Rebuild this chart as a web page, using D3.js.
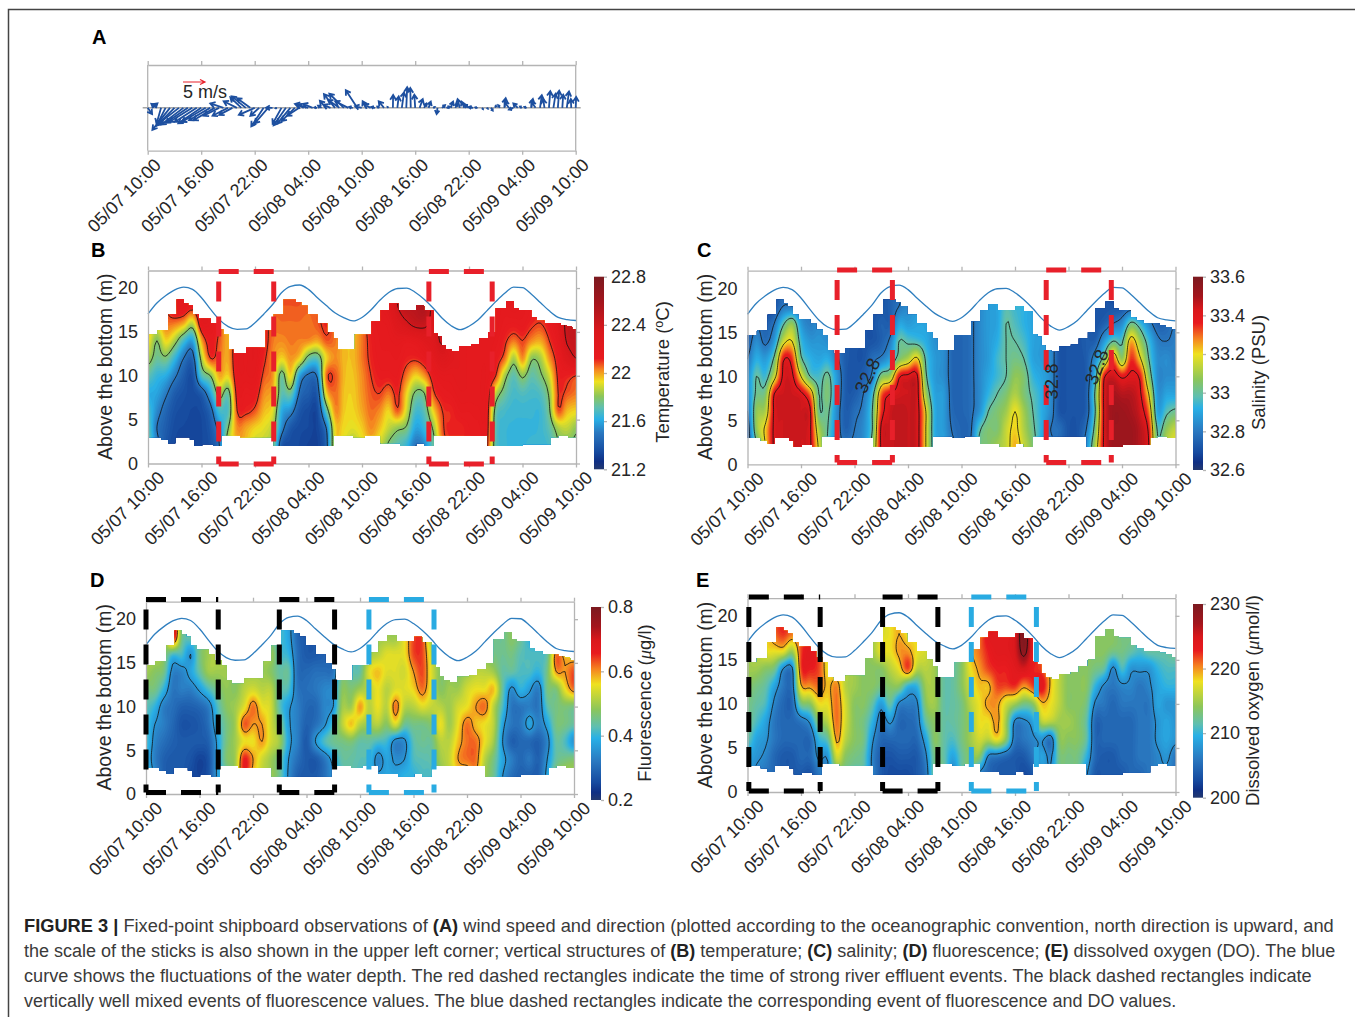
<!DOCTYPE html>
<html>
<head>
<meta charset="utf-8">
<script src="https://cdnjs.cloudflare.com/ajax/libs/d3/7.8.5/d3.min.js"></script>
<style>
body { margin: 0; background: #fff; }
text { font-family: "Liberation Sans", Arial, sans-serif; fill: #262626; }
</style>
</head>
<body>
<script>
var tickHours = [0, 6, 12, 18, 24, 30, 36, 42, 48];
var tickLabels = ["05/07 10:00", "05/07 16:00", "05/07 22:00", "05/08 04:00", "05/08 10:00", "05/08 16:00", "05/08 22:00", "05/09 04:00", "05/09 10:00"];
var depthTicks = [0, 5, 10, 15, 20];

// water depth, one value per hour
var waterDepth = [17.05, 18.3, 19.15, 19.8, 20.1, 19.85, 18.9, 17.6, 16.4, 15.6, 15.3, 15.35, 16.05, 17.05, 18.15, 19.5, 20.2, 20.35, 19.85, 18.9, 18, 17.15, 16.6, 16.25, 16.65, 17.5, 18.6, 19.5, 19.95, 20, 19.5, 18.7, 17.7, 16.55, 15.7, 15.25, 15.65, 16.35, 17.4, 18.45, 19.4, 20.1, 20.05, 19.3, 18.35, 17.4, 16.65, 16.4, 16.3];

// sampled range of the profiler, stepped
var topHours = [0, 1.06, 2.26, 3.23, 4.03, 4.5, 5.05, 5.7, 7.04, 7.7, 8.46, 9.03, 9.6, 11, 13.2, 14.1, 15.2, 16.6, 17.2, 17.9, 19, 20.1, 20.8, 21.3, 23.2, 25.07, 26.1, 27.05, 28.08, 30.07, 30.96, 32, 32.5, 32.95, 33.4, 34.05, 34.94, 36.27, 37.16, 38.18, 39, 40.17, 41.05, 41.6, 43, 43.6, 44.46, 46.24, 46.9, 47.56];
var topDepths = [14.7, 15.2, 17, 18.7, 18.3, 18, 17, 16.5, 16, 15.3, 14.7, 13, 12.6, 13.2, 15.2, 17, 18.7, 18.4, 18, 17, 16, 15, 14.3, 13, 14.7, 16.2, 17.5, 18.2, 17.5, 18, 17.4, 14.8, 14.5, 13.5, 13, 12.8, 13.4, 13.6, 14.3, 15, 17.7, 18.5, 17.7, 17.5, 16.7, 16.3, 16, 15.8, 15.6, 15.3];
var bottomHours = [0, 1.5, 2.26, 3.06, 4.7, 5.2, 6.07, 7.3, 8.28, 10.36, 14.1, 20.77, 23, 24.3, 26.1, 28.3, 30.07, 31, 32, 38.05, 42.05, 45.15, 46, 47.1];
var bottomDepths = [3, 2.7, 2.3, 3, 2.7, 2, 2.2, 2, 3.2, 3, 2, 3.2, 3, 3.2, 2.3, 2, 2.3, 2, 3.2, 2, 2.2, 3, 3.2, 3];

// depth of each value in the hourly columns below
var rowDepths = [2, 4, 6, 8, 10, 12, 14, 16, 18];

var tempCols = [
[21.75,21.72,21.68,21.62,21.72,21.85,21.95,22,22],
[21.55,21.5,21.55,21.6,21.65,21.75,21.8,21.95,22],
[21.4,21.42,21.45,21.52,21.62,21.78,21.95,22.05,22.1],
[21.35,21.36,21.38,21.42,21.52,21.65,21.85,22.05,22.2],
[21.35,21.35,21.36,21.38,21.42,21.5,21.68,22,22.2],
[21.35,21.35,21.35,21.36,21.38,21.45,21.6,21.88,22.15],
[21.35,21.35,21.36,21.42,21.7,21.85,22,22.2,22.25],
[21.38,21.4,21.45,21.6,21.8,22.1,22.15,22.2,22.2],
[21.5,21.55,21.68,21.85,22,22.05,22.08,22.1,22.1],
[21.9,21.8,21.7,21.75,21.95,22,22,22,22],
[22,22.03,22.1,22.15,22.18,22.2,22.2,22.2,22.2],
[21.98,22,22.12,22.15,22.2,22.2,22.2,22.2,22.2],
[21.9,21.95,22.08,22.15,22.2,22.22,22.22,22.22,22.22],
[21.88,21.92,21.98,22.03,22.08,22.12,22.15,22.15,22.15],
[21.8,21.85,21.92,21.98,22.02,22.03,22.05,22.06,22.08],
[21.4,21.55,21.62,21.72,21.75,21.95,22.03,22.06,22.08],
[21.36,21.4,21.55,21.75,21.95,22.02,22.05,22.06,22.08],
[21.35,21.36,21.4,21.48,21.6,21.95,22.04,22.06,22.08],
[21.33,21.35,21.36,21.42,21.48,21.75,22.03,22.05,22.07],
[21.33,21.34,21.36,21.42,21.52,21.72,22,22.08,22.07],
[21.45,21.5,21.72,21.95,22.06,21.95,22.08,22.12,22.1],
[21.95,21.95,22.03,22.06,22.08,22.03,22.05,22.05,22.05],
[21.92,21.94,21.96,21.97,21.98,21.98,21.98,21.98,21.98],
[21.85,21.92,21.95,21.96,21.97,21.98,21.98,21.98,21.98],
[21.92,21.96,22,22.02,22.03,22.05,22.05,22.05,22.05],
[21.98,22.03,22.06,22.08,22.1,22.12,22.13,22.15,22.15],
[21.9,21.97,22.03,22.1,22.14,22.16,22.17,22.18,22.2],
[21.78,21.88,21.95,22.05,22.14,22.16,22.18,22.2,22.25],
[21.72,21.82,22.08,22.12,22.15,22.17,22.2,22.3,22.4],
[21.65,21.78,21.9,21.95,22.05,22.13,22.18,22.38,22.5],
[21.5,21.6,21.68,21.78,21.95,22.12,22.2,22.45,22.5],
[21.55,21.65,21.72,21.8,22.02,22.16,22.25,22.45,22.55],
[21.75,21.82,21.95,22.08,22.15,22.22,22.3,22.35,22.35],
[22.05,22.08,22.1,22.15,22.2,22.3,22.42,22.42,22.42],
[22.12,22.12,22.12,22.17,22.2,22.25,22.25,22.25,22.25],
[22.13,22.12,22.17,22.2,22.22,22.22,22.22,22.22,22.22],
[22.15,22.15,22.17,22.2,22.2,22.2,22.2,22.2,22.2],
[22.15,22.16,22.18,22.2,22.2,22.2,22.2,22.2,22.2],
[22.13,22.15,22.16,22.18,22.2,22.2,22.2,22.2,22.2],
[21.72,21.72,21.75,21.88,22.1,22.15,22.18,22.2,22.2],
[21.66,21.66,21.68,21.75,21.85,22.06,22.12,22.16,22.18],
[21.65,21.65,21.66,21.68,21.72,21.85,22.05,22.15,22.2],
[21.65,21.65,21.66,21.7,21.82,22.03,22.1,22.16,22.18],
[21.66,21.65,21.66,21.68,21.73,21.82,22.03,22.12,22.15],
[21.66,21.66,21.66,21.7,21.78,21.85,22,22.1,22.12],
[21.68,21.72,21.78,21.82,21.9,22.02,22.1,22.15,22.15],
[21.8,21.85,22.08,22.1,22.12,22.15,22.2,22.25,22.3],
[21.8,21.88,21.98,22.08,22.13,22.3,22.42,22.45,22.45],
[21.78,21.82,21.95,22.05,22.1,22.4,22.45,22.48,22.5]
];

var salCols = [
[32.75,32.75,32.8,32.85,32.85,32.8,32.75,32.72,32.72],
[32.98,33.08,33.08,33.02,33,32.92,32.85,32.8,32.8],
[33.2,33.22,33.12,33.05,32.95,32.88,32.78,32.75,32.7],
[33.42,33.42,33.42,33.4,33.15,33.02,32.88,32.8,32.72],
[33.45,33.45,33.45,33.45,33.42,33.38,33.15,32.98,32.8],
[33.45,33.45,33.45,33.45,33.42,33.35,33.2,33.08,32.8],
[33.45,33.45,33.45,33.42,33.2,33.02,32.95,32.88,32.8],
[33.42,33.42,33.42,33.3,33,32.93,32.87,32.82,32.8],
[33.18,33.12,33.02,33,32.96,32.9,32.87,32.85,32.85],
[32.99,33,33.02,33.05,33.02,32.92,32.85,32.85,32.85],
[32.85,32.85,32.85,32.88,32.88,32.82,32.8,32.8,32.8],
[32.8,32.75,32.74,32.74,32.74,32.74,32.74,32.74,32.74],
[32.82,32.8,32.78,32.74,32.72,32.72,32.72,32.72,32.72],
[32.85,32.85,32.83,32.8,32.75,32.72,32.72,32.72,32.72],
[33.05,33,33,32.95,32.82,32.78,32.72,32.72,32.72],
[33.42,33.42,33.35,33.3,33.05,32.82,32.75,32.75,32.72],
[33.45,33.45,33.45,33.4,33.1,32.9,32.82,32.75,32.75],
[33.47,33.47,33.47,33.44,33.38,33.05,33,32.9,32.8],
[33.46,33.46,33.46,33.45,33.42,33.12,32.98,32.88,32.85],
[33.44,33.44,33.44,33.44,33.42,33.22,32.96,32.9,32.88],
[33.2,33.2,33.2,33.1,33.02,32.98,32.92,32.9,32.9],
[32.93,32.92,32.92,32.9,32.88,32.88,32.86,32.86,32.86],
[32.9,32.88,32.88,32.88,32.85,32.85,32.85,32.85,32.85],
[32.82,32.79,32.77,32.76,32.76,32.76,32.76,32.76,32.76],
[32.76,32.76,32.76,32.76,32.76,32.76,32.76,32.76,32.76],
[32.8,32.78,32.78,32.78,32.78,32.78,32.78,32.78,32.78],
[33.02,32.98,32.86,32.84,32.84,32.84,32.84,32.84,32.84],
[33.05,33.05,33,32.93,32.9,32.88,32.88,32.88,32.88],
[33.1,33.05,33.05,33,32.95,32.95,32.92,32.9,32.9],
[33.15,33.15,33.1,33.05,33,33,33,33,32.98],
[33.25,33.22,33.2,33.12,33.08,33.03,33,32.97,32.95],
[33.15,33.12,33.1,33.05,33.05,33,32.96,32.93,32.93],
[33.05,33.02,33,32.98,32.94,32.9,32.9,32.9,32.9],
[32.9,32.92,32.92,32.92,32.9,32.88,32.88,32.88,32.88],
[32.83,32.8,32.84,32.85,32.85,32.85,32.85,32.85,32.85],
[32.76,32.78,32.72,32.72,32.72,32.72,32.72,32.72,32.72],
[32.72,32.72,32.72,32.72,32.72,32.72,32.72,32.72,32.72],
[32.72,32.72,32.72,32.72,32.72,32.72,32.72,32.72,32.72],
[32.85,32.8,32.75,32.75,32.74,32.74,32.74,32.74,32.74],
[33.12,33.05,33,33.02,32.95,32.85,32.75,32.72,32.72],
[33.42,33.42,33.42,33.42,33.38,33.05,32.88,32.75,32.72],
[33.52,33.52,33.52,33.5,33.45,33.3,33,32.8,32.72],
[33.52,33.52,33.52,33.48,33.38,33.08,32.98,32.85,32.72],
[33.52,33.52,33.5,33.48,33.42,33.35,33.25,33.02,32.75],
[33.48,33.48,33.45,33.42,33.38,33.22,33.1,32.95,32.72],
[33.4,33.38,33.3,33.2,33.08,33,32.95,32.84,32.72],
[33.02,32.98,32.9,32.87,32.85,32.85,32.82,32.75,32.7],
[33.15,33.08,32.98,32.9,32.85,32.85,32.8,32.76,32.7],
[33.2,33.15,33.02,32.9,32.85,32.82,32.82,32.8,32.72]
];

var fluoCols = [
[.42,.4,.42,.42,.43,.46,.5,.52,.52],
[.35,.33,.34,.36,.4,.46,.48,.52,.5],
[.29,.29,.31,.33,.33,.4,.46,.48,.47],
[.28,.28,.29,.3,.31,.32,.34,.42,.7],
[.28,.28,.28,.27,.29,.33,.34,.42,.46],
[.26,.27,.28,.27,.29,.33,.38,.36,.44],
[.25,.25,.28,.28,.3,.37,.44,.46,.46],
[.27,.27,.29,.31,.33,.42,.5,.5,.5],
[.37,.37,.37,.4,.42,.46,.5,.52,.52],
[.43,.47,.46,.46,.48,.49,.5,.5,.5],
[.5,.5,.5,.5,.5,.48,.48,.48,.48],
[.66,.66,.56,.63,.55,.52,.5,.5,.5],
[.58,.6,.56,.6,.62,.54,.5,.5,.5],
[.53,.54,.6,.6,.56,.52,.5,.5,.5],
[.5,.5,.54,.54,.54,.52,.48,.5,.45],
[.45,.45,.5,.47,.43,.44,.44,.42,.42],
[.35,.36,.38,.37,.37,.42,.44,.4,.38],
[.29,.31,.33,.33,.33,.32,.31,.31,.3],
[.28,.28,.28,.29,.3,.31,.3,.28,.28],
[.28,.28,.36,.31,.3,.32,.31,.28,.28],
[.31,.32,.42,.35,.34,.34,.31,.29,.29],
[.36,.38,.45,.42,.36,.36,.32,.32,.32],
[.42,.44,.46,.52,.5,.48,.46,.46,.46],
[.44,.44,.47,.58,.5,.47,.44,.44,.44],
[.42,.43,.44,.52,.6,.5,.44,.44,.44],
[.4,.42,.44,.5,.52,.52,.55,.5,.5],
[.37,.34,.42,.52,.56,.56,.58,.52,.5],
[.38,.38,.41,.48,.52,.52,.55,.55,.5],
[.38,.35,.34,.55,.62,.55,.55,.55,.5],
[.4,.36,.35,.45,.52,.55,.54,.56,.56],
[.4,.42,.43,.46,.52,.57,.6,.64,.64],
[.42,.43,.45,.46,.55,.62,.64,.64,.64],
[.42,.44,.45,.48,.53,.55,.55,.54,.5],
[.48,.5,.52,.56,.52,.48,.48,.48,.48],
[.52,.53,.52,.5,.5,.5,.48,.48,.48],
[.56,.6,.58,.56,.54,.5,.48,.48,.48],
[.56,.62,.62,.62,.56,.54,.5,.5,.5],
[.6,.62,.62,.58,.6,.56,.52,.5,.5],
[.5,.52,.56,.56,.62,.56,.52,.48,.48],
[.45,.46,.5,.52,.52,.58,.5,.46,.46],
[.36,.38,.36,.38,.42,.44,.44,.45,.45],
[.31,.33,.29,.32,.32,.35,.44,.46,.48],
[.29,.3,.3,.32,.32,.4,.42,.43,.45],
[.29,.32,.3,.38,.33,.37,.42,.42,.4],
[.29,.29,.29,.33,.32,.33,.4,.42,.4],
[.38,.36,.34,.38,.43,.46,.46,.44,.42],
[.48,.44,.44,.46,.46,.47,.6,.62,.5],
[.52,.46,.42,.46,.47,.56,.6,.58,.5],
[.5,.47,.36,.44,.46,.62,.64,.56,.5]
];

var oxyCols = [
[209,209,212,213,213,214,215,215,215],
[207,208,209,211,212,213,215,216,216],
[206,207,208,209,211,212,214,218,218],
[205,205,206,206,207,209,213,218,221],
[204,204,205,205,205,206,207.5,218,222.5],
[204,204,205,205,205,206,207,215,221],
[204,205,205,206,213,219,222,222,222],
[203.5,205,205,208,214,220,223,224,222],
[206,208,210,214,218,221,222,222,222],
[207,208,212,216,218,219,218,218,218],
[213,217,220,221,221,220.5,218,218,218],
[213,214,216,217,217,216,216,216,216],
[212,213,214,214,214,215,215,215,215],
[212,212,213,213,214,214,214,214,214],
[207,207,208,210,212,214,214,215,215],
[204,204,205,206,208.5,213,214,218,217],
[203,203.5,205,208,212,214,216,218,218],
[203,204,205,205,207,214,218,220,219.5],
[203,204,205,205,206.5,210,222,220,218],
[204,204,205,206,207,210,216,218,218],
[206,207,209,212,214,215,216,217,217],
[213,213,214,214,215,215,215,215,215],
[213,212,212,212,212,212,212,212,212],
[207,209,211,212,212,212,212,212,212],
[212,212,213,213,213,214,214,214,214],
[214,214,215,215,216,217,218,219,219],
[207,214,217,218,218,219,220,221,221],
[205,207,216,218,220,219,222,223,224],
[204,206,218,220,220,222,223,224,224],
[204,205,214,215,217,222,223,224,224],
[204,204,206,207,215,222.5,224,225,225],
[203,204,206,207,213,220,225,229,230],
[204,206,207,209,214,222,223,224,224],
[208,209,208,216,219,224,222,222,222],
[208,207,206,216,218,219,219,219,219],
[213,213,214,215,216,216,216,216,216],
[213,213,214,215,214,214,214,214,214],
[213,213,214,214,214,214,214,214,214],
[208,210,212,212,213,214,214,214,214],
[204,205,205,205,207,210,213,214,214],
[204,204,205,205,206,207,212,214,214],
[204,204,205,205,205,206,207,213,214],
[204,205,205,205,206,207,211,213,213],
[205,205,205,205,206,207,208,212,213],
[205,206,206,206,206,206,208,211,212],
[206,206,206,206,206,207,208,212,212],
[207,207,208,208,209,209,210,212,212],
[207,208,209,209,208,210,211,212,212],
[206,206,208,208,208,210,211,213,213]
];

// wind components in m/s, one pair per half hour
var windU = [1,1.2,-1.2,-1,-2,-4,-4,-4.5,-5,-5,-5.2,-5,-5.2,-5.4,-4.8,-4.8,-3.5,-3,-3.5,-3,-3,-2.5,-3.2,-3,-3.6,-2,-2.8,-3,-1.5,-.3,-2,-2.8,-3,-3,-2.8,-1.5,-3,-2.2,-.6,-.8,-1.4,-1.6,-2.5,-2.6,-3.3,-3,-.8,-2.6,-1.5,-.8,-1.5,-.8,-.5,-1.2,-.2,.05,.3,.5,.2,-.1,-.2,.7,.5,.5,.4,-.2,.7,.8,.5,.5,-.5,-.6,-1,-1,-.5,.2,.3,.4,.1,-.4,.3,-1,-1,-1,-.5,-.5,.4,-1,.4,-.3,.3,.5,.3,.2,.5,-.1,.1];
var windV = [-1.4,1,.9,-3.5,-4,-5,-4,-3.5,-3.8,-3.4,-3.2,-3.2,-3.5,-3.2,-2.8,-2.8,-1.8,1,-1.8,-1.6,1.5,2.4,2.6,2.2,-1.6,-1.8,-4.2,-3.5,0,-.1,-3.6,-4,-3.6,-3,-1.8,.8,.9,.9,.1,.5,1.6,.7,3.1,1.8,3.2,1.5,.2,4,.4,1.5,.8,.2,.3,1.5,.2,2.9,2.6,3.5,4.7,4.5,3,2,1,1.4,.2,-1.4,.6,.3,1.4,1,2,1.4,.7,.2,.1,-.3,-.2,-.6,.5,.6,2.2,1.4,-.4,1,.3,.2,2,1.4,2.9,2,3.8,3.2,3.9,3,3.7,2,2.5];

// colour bar ramps: position along the bar and colour
var rampColors = ["#24396f", "#0f2f84", "#164a9f", "#2a78c0", "#29b0e6", "#5fbfb0", "#8cc65a", "#efe11f", "#f58220", "#e81b1f", "#d9181c", "#a3151d", "#7b1a20"];
var rampTemp = [0, .04, .09, .19, .26, .32, .38, .455, .52, .575, .72, .87, 1];
var rampOther = [0, .04, .09, .2, .32, .38, .47, .6, .68, .76, .83, .9, 1];

var captionLines = [
	{y: 932, end: 1335, parts: [["FIGURE 3 |", 1], [" Fixed-point shipboard observations of ", 0], ["(A)", 1], [" wind speed and direction (plotted according to the oceanographic convention, north direction is upward, and", 0]]},
	{y: 957, end: 1336, parts: [["the scale of the sticks is also shown in the upper left corner; vertical structures of ", 0], ["(B)", 1], [" temperature; ", 0], ["(C)", 1], [" salinity; ", 0], ["(D)", 1], [" fluorescence; ", 0], ["(E)", 1], [" dissolved oxygen (DO). The blue", 0]]},
	{y: 982, end: 1313, parts: [["curve shows the fluctuations of the water depth. The red dashed rectangles indicate the time of strong river effluent events. The black dashed rectangles indicate", 0]]},
	{y: 1007, end: 1177, parts: [["vertically well mixed events of fluorescence values. The blue dashed rectangles indicate the corresponding event of fluorescence and DO values.", 0]]}
];

var svg = d3.select("body").
append("svg").
attr("width", 1355).
attr("height", 1017);

// figure frame
svg.append("path").
attr("d", "M8.5,1017V9.5H1355").
attr("fill", "none").
attr("stroke", "#444").
attr("stroke-width", 1.5);

var gray = "#b4b4b4";

function styleAxis(g) {
	g.selectAll("path, line").attr("stroke", gray).attr("stroke-width", 1.3);
	g.selectAll("text").attr("font-size", 18).attr("font-family", null).attr("fill", "#262626");
}

function dateAxis(g, x, bottom, nudge) {
	var axis = d3.axisBottom(x).tickValues(tickHours).tickSize(4).tickSizeOuter(0).tickFormat(function (d, i) {return tickLabels[i];});
	g.append("g").
	attr("transform", "translate(0," + bottom + ")").
	call(axis).
	call(styleAxis).
	selectAll("text").
	attr("text-anchor", "end").
	attr("dy", 0).
	attr("y", 0).
	attr("transform", "translate(" + nudge + ",15.5) rotate(-45)");
}

function topAxis(g, x, top) {
	g.append("g").
	attr("transform", "translate(0," + top + ")").
	call(d3.axisTop(x).tickValues(tickHours).tickSize(4).tickSizeOuter(0).tickFormat("")).
	call(styleAxis);
}

function letter(s, x, y) {
	svg.append("text").
	attr("x", x).
	attr("y", y).
	attr("font-size", 20).
	attr("font-weight", "bold").
	style("fill", "#000").
	text(s);
}

// Catmull-Rom through the read values, so the bands come out as smooth as the source shading
function cubic(a, b, c, d, t) {
	return 0.5 * (2 * b + (c - a) * t + (2 * a - 5 * b + 4 * c - d) * t * t + (3 * b - a - 3 * c + d) * t * t * t);
}

function sample(arr, p) {
	var n = arr.length - 1;
	var i = Math.max(0, Math.min(n, Math.floor(p)));
	var t = p - i;
	var get = function (k) {return arr[Math.max(0, Math.min(n, k))];};
	return cubic(get(i - 1), get(i), get(i + 1), get(i + 2), t);
}

var perHour = 4;
var perMetre = 4;
var gridLow = 1.5;
var gridHigh = 19.5;

function fineGrid(cols) {
	var nx = 48 * perHour + 1;
	var ny = (gridHigh - gridLow) * perMetre + 1;
	var values = new Array(nx * ny);
	var rows = rowDepths.map(function (d, r) {
		var line = d3.range(nx).map(function (i) {return sample(cols.map(function (c) {return c[r];}), i / perHour);});
		return line;
	});
	for (var j = 0; j < ny; j++) {
		var dep = gridLow + j / perMetre;
		var p = (dep - rowDepths[0]) / 2;
		for (var i = 0; i < nx; i++) {
			values[j * nx + i] = sample(rows.map(function (l) {return l[i];}), p);
		}
	}
	return {nx: nx, ny: ny, values: values};
}

function stepAt(hs, ds, h) {
	return ds[Math.max(0, d3.bisectRight(hs, h) - 1)];
}

function fieldPanel(cfg) {
	var x = d3.scaleLinear().domain([0, 48]).range([cfg.left, cfg.right]);
	var y = d3.scaleLinear().domain([0, 22]).range([cfg.zero, cfg.top]);
	var g = svg.append("g");
	var color = d3.scaleLinear().
	domain(cfg.ramp.map(function (t) {return cfg.low + t * (cfg.high - cfg.low);})).
	range(rampColors).
	clamp(true);

	// sampled area as a stepped clip
	var hrs = Array.from(new Set(topHours.concat(bottomHours, [48]))).sort(d3.ascending);
	var area = d3.area().
	curve(d3.curveStepAfter).
	x(function (h) {return x(h);}).
	y0(function (h) {return y(stepAt(bottomHours, bottomDepths, h));}).
	y1(function (h) {return y(stepAt(topHours, topDepths, h));});
	g.append("clipPath").
	attr("id", "clip" + cfg.name).
	append("path").
	attr("d", area(hrs));

	var grid = fineGrid(cfg.cols);
	var path = d3.geoPath(d3.geoTransform({point: function (px, py) {
		this.stream.point(x((px - 0.5) / perHour), y(gridLow + (py - 0.5) / perMetre));
	}}));
	var bands = d3.contours().size([grid.nx, grid.ny]);
	var body = g.append("g").attr("clip-path", "url(#clip" + cfg.name + ")");

	body.append("rect").
	attr("x", cfg.left).
	attr("y", cfg.top).
	attr("width", cfg.right - cfg.left).
	attr("height", cfg.zero - cfg.top).
	attr("fill", color(cfg.low));

	var levels = d3.range(90).map(function (k) {return cfg.low + (k + 0.5) * (cfg.high - cfg.low) / 90;});
	body.selectAll("path.band").
	data(bands.thresholds(levels)(grid.values)).
	enter().
	append("path").
	attr("class", "band").
	attr("d", path).
	attr("fill", function (d) {return color(d.value);});

	body.selectAll("path.iso").
	data(bands.thresholds(cfg.isolines)(grid.values)).
	enter().
	append("path").
	attr("class", "iso").
	attr("d", path).
	attr("fill", "none").
	attr("stroke", "#111").
	attr("stroke-width", 0.8);

	// water depth curve
	g.append("path").
	attr("d", d3.line().curve(d3.curveMonotoneX).x(function (d, i) {return x(i);}).y(function (d) {return y(d);})(waterDepth)).
	attr("fill", "none").
	attr("stroke", "#2f7fbf").
	attr("stroke-width", 1.3);

	// axes
	topAxis(g, x, cfg.top);
	dateAxis(g, x, cfg.zero, 17);
	g.append("g").
	attr("transform", "translate(" + cfg.left + ",0)").
	call(d3.axisLeft(y).tickValues(depthTicks).tickSize(0).tickPadding(10).tickSizeOuter(0)).
	call(styleAxis);
	g.append("g").
	attr("transform", "translate(" + cfg.right + ",0)").
	call(d3.axisRight(y).tickValues(depthTicks).tickSize(4).tickFormat("").tickSizeOuter(0)).
	call(styleAxis);

	g.append("text").
	attr("transform", "translate(" + cfg.yLabelX + "," + cfg.yLabelY + ") rotate(-90)").
	attr("text-anchor", "middle").
	attr("font-size", 19.4).
	text("Above the bottom (m)");

	// dashed event boxes
	cfg.boxes.forEach(function (b) {
		var xa = x(b[0]), xb = x(b[1]);
		var sides = [[xa, cfg.boxTop, xb, cfg.boxTop, 0], [xa, cfg.boxTop, xa, cfg.boxBottom, -10], [xb, cfg.boxTop, xb, cfg.boxBottom, -10], [xa, cfg.boxBottom, xb, cfg.boxBottom, 0]];
		sides.forEach(function (s) {
			g.append("line").
			attr("x1", s[0]).
			attr("y1", s[1]).
			attr("x2", s[2]).
			attr("y2", s[3]).
			attr("stroke", b[2]).
			attr("stroke-width", 5).
			attr("stroke-dasharray", "20 15").
			attr("stroke-dashoffset", s[4]);
		});
	});

	// colour bar
	var gradId = "grad" + cfg.name;
	var grad = g.append("linearGradient").
	attr("id", gradId).
	attr("x1", 0).
	attr("y1", 1).
	attr("x2", 0).
	attr("y2", 0);
	cfg.ramp.forEach(function (t, i) {
		grad.append("stop").attr("offset", t).attr("stop-color", rampColors[i]);
	});
	var barY = d3.scaleLinear().domain([cfg.low, cfg.high]).range([cfg.barBottom, cfg.barTop]);
	g.append("rect").
	attr("x", cfg.barX).
	attr("y", cfg.barTop).
	attr("width", 10).
	attr("height", cfg.barBottom - cfg.barTop).
	attr("fill", "url(#" + gradId + ")");
	g.append("g").
	attr("transform", "translate(" + (cfg.barX + 10) + ",0)").
	call(d3.axisRight(barY).tickValues(cfg.barTicks).tickSize(3).tickPadding(4).tickSizeOuter(0).tickFormat(function (d, i) {return cfg.barLabels[i];})).
	call(styleAxis).
	select(".domain").
	remove();

	var label = g.append("text").
	attr("transform", "translate(" + cfg.labelX + "," + cfg.labelY + ") rotate(-90)").
	attr("text-anchor", "middle").
	attr("font-size", 18.5);
	cfg.label(label);

	return {x: x, y: y, g: g};
}

// panel A
(function () {
	var x = d3.scaleLinear().domain([0, 48]).range([147.7, 575.7]);
	var y = d3.scaleLinear().domain([-9.75, 9.75]).range([150.7, 65]);
	var len = d3.scaleLinear().domain([0, 5]).range([0, 22]);
	var g = svg.append("g");

	g.append("line").
	attr("x1", x(0) - 5).
	attr("x2", x(48) + 5).
	attr("y1", y(0)).
	attr("y2", y(0)).
	attr("stroke", "#777").
	attr("stroke-width", 1);
	g.append("line").attr("x1", x(0)).attr("x2", x(0)).attr("y1", y.range()[1]).attr("y2", y.range()[0]).attr("stroke", gray).attr("stroke-width", 1.3);
	g.append("line").attr("x1", x(48)).attr("x2", x(48)).attr("y1", y.range()[1]).attr("y2", y.range()[0]).attr("stroke", gray).attr("stroke-width", 1.3);

	g.selectAll("path.wind").
	data(windU).
	enter().
	append("path").
	attr("class", "wind").
	attr("d", function (u, i) {
		var v = windV[i];
		var x0 = x(i / 2), y0 = y(0);
		var dx = len(u), dy = -len(v);
		var a = Math.atan2(dy, dx);
		var head = Math.min(5.5, Math.sqrt(dx * dx + dy * dy) * 0.7);
		var tx = x0 + dx, ty = y0 + dy;
		return "M" + x0 + "," + y0 + "L" + tx + "," + ty +
		"M" + (tx - head * Math.cos(a - 0.55)) + "," + (ty - head * Math.sin(a - 0.55)) + "L" + tx + "," + ty +
		"L" + (tx - head * Math.cos(a + 0.55)) + "," + (ty - head * Math.sin(a + 0.55));
	}).
	attr("fill", "none").
	attr("stroke", "#1d4f9f").
	attr("stroke-width", 1.8);

	topAxis(g, x, 65);
	dateAxis(g, x, 150.7, 14);

	// scale arrow
	var sx = 183;
	g.append("path").
	attr("d", "M" + sx + ",82H" + (sx + len(5)) + "M" + (sx + len(5) - 5) + ",79.5L" + (sx + len(5)) + ",82L" + (sx + len(5) - 5) + ",84.5").
	attr("fill", "none").
	attr("stroke", "#e8202a").
	attr("stroke-width", 1.2);
	g.append("text").
	attr("x", sx).
	attr("y", 98).
	attr("font-size", 18).
	text("5 m/s");
})();

var red = "#e8202a";
var blue = "#29abe2";
var black = "#000";

fieldPanel({
	name: "B", cols: tempCols, ramp: rampTemp, low: 21.2, high: 22.8,
	isolines: [21.5, 21.8, 22.1, 22.4],
	left: 148, right: 576, top: 270.5, zero: 463.5,
	boxTop: 271.5, boxBottom: 464, boxes: [[7.93, 14.1, red], [31.5, 38.6, red]],
	yLabelX: 112, yLabelY: 366.7,
	barX: 594, barTop: 276.7, barBottom: 469.3,
	barTicks: [21.2, 21.6, 22, 22.4, 22.8], barLabels: ["21.2", "21.6", "22", "22.4", "22.8"],
	labelX: 669, labelY: 372,
	label: function (t) {
		t.append("tspan").text("Temperature (");
		t.append("tspan").attr("dy", -6).attr("font-size", 12.5).text("o");
		t.append("tspan").attr("dy", 6).text("C)");
	}
});

var panelC = fieldPanel({
	name: "C", cols: salCols, ramp: rampOther, low: 32.6, high: 33.6,
	isolines: [32.8, 33, 33.2, 33.4],
	left: 747.5, right: 1175.5, top: 270.7, zero: 464.3,
	boxTop: 270, boxBottom: 462.5, boxes: [[10.05, 16.25, red], [33.5, 40.8, red]],
	yLabelX: 712, yLabelY: 367,
	barX: 1193, barTop: 276.7, barBottom: 470,
	barTicks: [32.6, 32.8, 33, 33.2, 33.4, 33.6], barLabels: ["32.6", "32.8", "33", "33.2", "33.4", "33.6"],
	labelX: 1265, labelY: 372.5,
	label: function (t) {t.text("Salinity (PSU)");}
});

// inline contour labels of panel C
var isoLabels = [[13.6, 10, -65], [34.3, 9.4, -90], [39.3, 11, -70]];
panelC.g.selectAll("text.iso").
data(isoLabels).
enter().
append("text").
attr("class", "iso").
attr("text-anchor", "middle").
attr("dominant-baseline", "middle").
attr("font-size", 18.5).
attr("transform", function (d) {return "translate(" + panelC.x(d[0]) + "," + panelC.y(d[1]) + ") rotate(" + d[2] + ")";}).
text("32.8");

function muLabel(before, after) {
	return function (t) {
		t.append("tspan").text(before);
		t.append("tspan").attr("font-style", "italic").style("font-family", "'Liberation Serif', serif").text("\u03bc");
		t.append("tspan").text(after);
	};
}

fieldPanel({
	name: "D", cols: fluoCols, ramp: rampOther, low: 0.2, high: 0.8,
	isolines: [0.36, 0.6, 0.7],
	left: 146, right: 574, top: 601.7, zero: 794,
	boxTop: 599.5, boxBottom: 792.5, boxes: [[0, 8.1, black], [14.95, 21.15, black], [25, 32.3, blue]],
	yLabelX: 111, yLabelY: 697.3,
	barX: 591, barTop: 607, barBottom: 800,
	barTicks: [0.2, 0.4, 0.6, 0.8], barLabels: ["0.2", "0.4", "0.6", "0.8"],
	labelX: 651, labelY: 703,
	label: muLabel("Fluorescence (", "g/l)")
});

fieldPanel({
	name: "E", cols: oxyCols, ramp: rampOther, low: 200, high: 230,
	isolines: [207.5, 219.5, 228],
	left: 747.5, right: 1175.5, top: 598.2, zero: 792,
	boxTop: 597, boxBottom: 791, boxes: [[0.15, 8.15, black], [15.15, 21.35, black], [25.1, 32.4, blue]],
	yLabelX: 712, yLabelY: 695,
	barX: 1193, barTop: 604, barBottom: 797.7,
	barTicks: [200, 210, 220, 230], barLabels: ["200", "210", "220", "230"],
	labelX: 1259, labelY: 700.5,
	label: muLabel("Dissolved oxygen (", "mol/l)")
});

letter("A", 92, 44);
letter("B", 91, 257);
letter("C", 697, 257);
letter("D", 90, 587);
letter("E", 696, 587);

// caption, each line sized to its measured width
captionLines.forEach(function (line) {
	var t = svg.append("text").
	attr("x", 24).
	attr("y", line.y).
	attr("font-size", 17).
	style("white-space", "pre");
	line.parts.forEach(function (p) {
		t.append("tspan").
		attr("font-weight", p[1] ? "bold" : "normal").
		style("fill", p[1] ? "#222" : "#3a3a3a").
		text(p[0]);
	});
	var w = t.node().getComputedTextLength();
	t.attr("font-size", 17 * (line.end - 24) / w);
});
</script>
</body>
</html>
